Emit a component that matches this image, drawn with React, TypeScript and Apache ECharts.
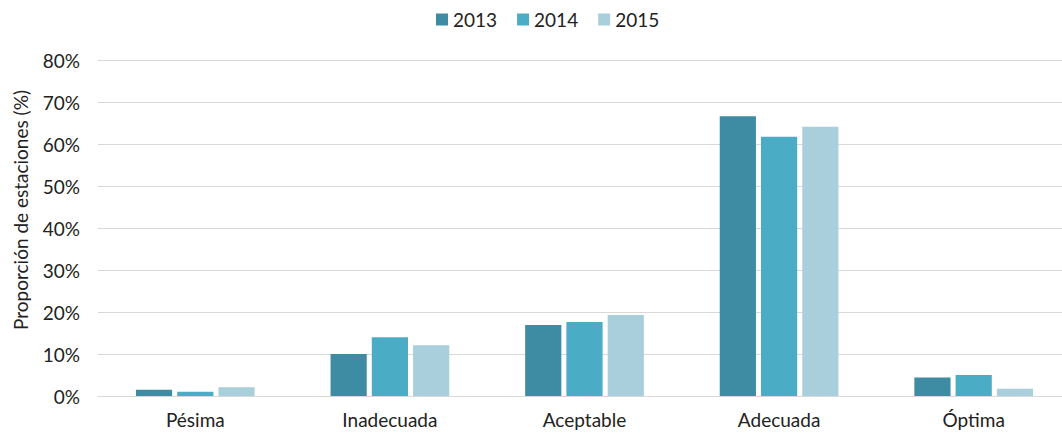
import React, { useEffect, useRef } from "react";
import * as echarts from "echarts";

const categories = ["Pésima", "Inadecuada", "Aceptable", "Adecuada", "Óptima"];
const seriesNames = ["2013", "2014", "2015"];
const values2013 = [1.5, 10.0, 16.9, 66.6, 4.4];
const values2014 = [1.0, 14.0, 17.6, 61.7, 5.0];
const values2015 = [2.1, 12.1, 19.3, 64.1, 1.7];
const colors = ["#3D8CA3", "#4BACC6", "#A9CFDD"];
const yTitle = "Proporción de estaciones (%)";

const FONT = "Lato, 'Open Sans', sans-serif";

export default function App() {
  const ref = useRef<HTMLDivElement>(null);
  useEffect(() => {
    if (!ref.current) return;
    const chart = echarts.init(ref.current, undefined, { renderer: "svg" });
    const data = [values2013, values2014, values2015];
    chart.setOption({
      animation: false,
      textStyle: { fontFamily: FONT },
      legend: {
        top: 10,
        left: 436,
        padding: 0,
        itemWidth: 12,
        itemHeight: 12,
        itemGap: 20,
        icon: "rect",
        textStyle: { fontSize: 19, color: "#222", fontFamily: FONT },
        data: seriesNames,
      },
      grid: { left: 98, right: -9, top: 60, bottom: 37, outerBoundsMode: "none", containLabel: false },
      graphic: [
        {
          type: "text",
          x: 20,
          y: 210,
          rotation: Math.PI / 2,
          style: {
            text: yTitle,
            fontSize: 19,
            fontFamily: FONT,
            fill: "#222",
            textAlign: "center",
            textVerticalAlign: "middle",
          },
        },
      ],
      xAxis: {
        type: "category",
        data: categories,
        axisLine: { lineStyle: { color: "#d9d9d9" } },
        axisTick: { show: false },
        axisLabel: { fontSize: 19, color: "#222", margin: 14, fontFamily: FONT },
      },
      yAxis: {
        type: "value",
        min: 0,
        max: 80,
        interval: 10,
        axisLabel: { formatter: "{value}%", fontSize: 19, color: "#222", margin: 18, fontFamily: FONT },
        splitLine: { lineStyle: { color: "#d9d9d9" } },
        axisLine: { show: false },
        axisTick: { show: false },
      },
      series: seriesNames.map((name, i) => ({
        name,
        type: "bar",
        data: data[i],
        barGap: "14%",
        barCategoryGap: "39%",
        itemStyle: { color: colors[i] },
      })),
    });
    return () => chart.dispose();
  }, []);
  return <div ref={ref} style={{ width: 1062, height: 433, position: "absolute", left: 0, top: 0 }} />;
}
